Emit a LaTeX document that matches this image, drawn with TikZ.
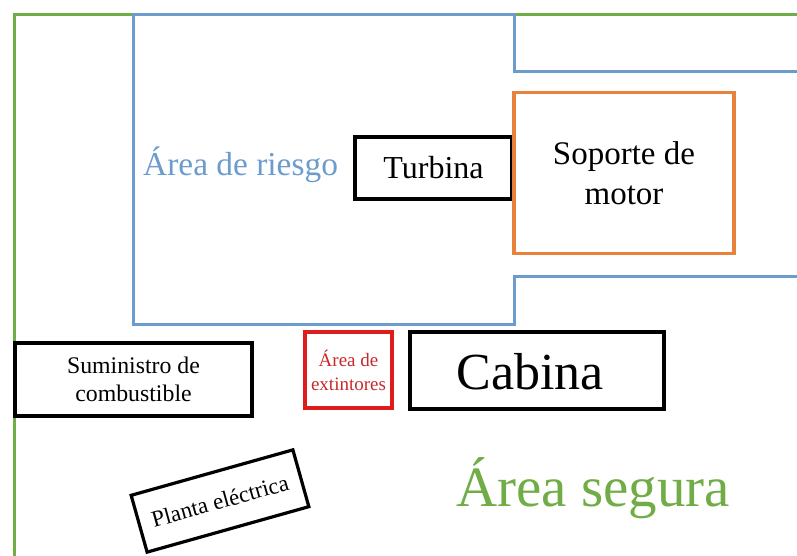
\documentclass[tikz,border=0pt]{standalone}
\usepackage{fontspec}
\setmainfont{Liberation Serif}
\definecolor{zgreen}{RGB}{112,173,71}
\definecolor{zblue}{RGB}{108,155,205}
\definecolor{zorange}{RGB}{230,130,60}
\definecolor{zred}{RGB}{222,28,28}
\definecolor{zredtext}{RGB}{200,40,40}
\tikzset{
  box/.style={draw=black, line width=3.2pt, inner sep=0pt, align=center},
  zone/.style={line width=3pt, line join=miter},
}
\begin{document}
\begin{tikzpicture}[x=1pt,y=1pt]
\useasboundingbox (0,0) rectangle (797,556);
% safe area (green)
\coordinate (g1) at (797,541);
\coordinate (g2) at (14,541);
\coordinate (g3) at (14,0);
\draw[zone, draw=zgreen] (g1) -- (g2) -- (g3);
% risk area (blue)
\coordinate (b1) at (797,484);
\coordinate (b2) at (514,484);
\coordinate (b3) at (514,541);
\coordinate (b4) at (133,541);
\coordinate (b5) at (133,231);
\coordinate (b6) at (514,231);
\coordinate (b7) at (514,279);
\coordinate (b8) at (797,279);
\draw[zone, draw=zblue] (b1) -- (b2) -- (b3) -- (b4) -- (b5) -- (b6) -- (b7) -- (b8);
\node[anchor=base west, text=zblue, font=\fontsize{33.4}{38}\selectfont, inner sep=0pt] (riesgo) at (143,380) {Área de riesgo};
% boxes
\node[box, minimum width=157pt, minimum height=62pt, font=\fontsize{32}{36}\selectfont] (turbina) at (433.5,388) {Turbina};
\node[box, draw=zorange, minimum width=220pt, minimum height=161pt, font=\fontsize{33}{40}\selectfont] (soporte) at (624,383) {Soporte de\\motor};
\node[box, minimum width=237pt, minimum height=73pt, font=\fontsize{23.8}{28}\selectfont] (sumin) at (133.5,176.5) {Suministro de\\combustible};
\node[box, draw=zred, minimum width=87pt, minimum height=76pt, text=zredtext, font=\fontsize{19}{24}\selectfont] (extint) at (348.5,186) {Área de\\extintores};
\node[box, minimum width=254pt, minimum height=77pt] (cabina) at (537,185.5) {};
\node[font=\fontsize{52}{60}\selectfont, inner sep=0pt] (cabinatxt) at (530,184.5) {Cabina};
\node[box, rotate=15.7, minimum width=168pt, minimum height=59pt, font=\fontsize{23}{28}\selectfont] (planta) at (220,55) {Planta eléctrica};
\node[anchor=base west, text=zgreen, font=\fontsize{57}{64}\selectfont, inner sep=0pt] (segura) at (456,49) {Área segura};
\end{tikzpicture}
\end{document}
